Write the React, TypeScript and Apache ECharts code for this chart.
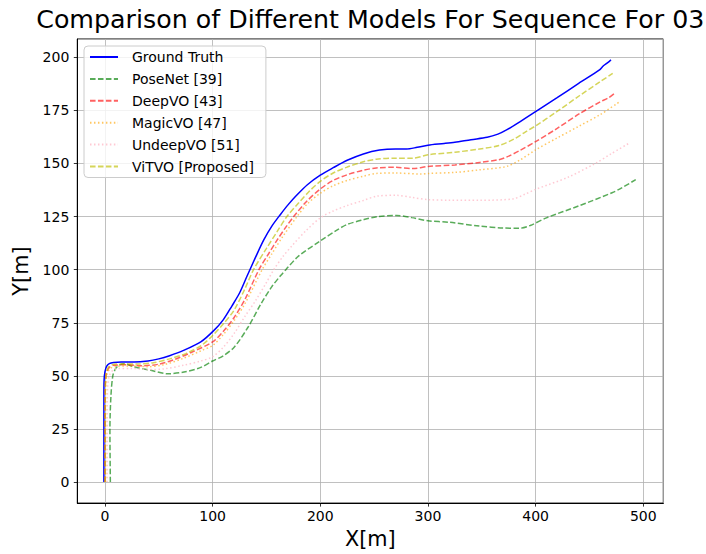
import React, { useEffect, useRef } from "react";
import * as echarts from "echarts";

type Pt = [number, number];

const seriesNames = ["Ground Truth", "PoseNet [39]", "DeepVO [43]", "MagicVO [47]", "UndeepVO [51]", "ViTVO [Proposed]"];

const groundTruth: Pt[] = [
  [-1, 0], [-1, 20], [-1, 40], [-0.8, 48], [0, 52], [1.5, 54.5], [4, 55.8], [8, 56.3], [15, 56.5], [27, 56.5],
  [40, 57], [50, 58], [60, 59.5], [73, 62], [89, 66], [101, 71.3], [110, 76.5], [118, 83], [125, 89], [132, 97],
  [140, 106], [147.5, 114], [155, 120.5], [163, 126], [170, 130.5], [178, 135], [188, 140], [200, 144.5],
  [212, 148], [225, 151.5], [240, 154.5], [255, 156.3], [270, 156.8], [280, 156.8], [290, 157.6], [300, 158.6],
  [315, 159.4], [325, 160], [340, 161.2], [355, 162.3], [365, 163.8], [373, 165.8], [385, 169.5], [400, 174.4],
  [420, 181], [440, 187.7], [459, 193.9], [463, 196], [467, 197.5], [470, 198.8],
];

const poseNet: Pt[] = [
  [5, 0], [4.6, 25], [5.6, 41], [7.4, 50.3], [10, 53.5], [13, 55], [18, 55.7], [27, 54.2], [42.6, 52.6], [58, 51],
  [73.4, 51.8], [89, 54], [100, 57], [110, 59.5], [120, 63.5], [133, 73], [145, 84], [155, 92], [163, 97.1],
  [168, 100], [180, 106.5], [200, 113.5], [215, 118.5], [225, 121.3], [240, 123.5], [252.5, 124.9], [271, 125.5],
  [285, 124.5], [300, 123], [320, 122.3], [348, 120.5], [370, 119.6], [385, 119.5], [395, 120.8], [410, 124.4],
  [440, 130], [471, 136.2], [480, 138.5], [493, 142.4],
];

const deepVO: Pt[] = [
  [0, 0], [0, 30], [0.4, 46], [1.5, 51.5], [4, 54], [8, 55], [20, 55.2], [35, 54.8], [50, 55.5], [65, 57.8],
  [80, 61], [100, 66], [110, 71], [120, 77.5], [130, 86], [143, 100], [152, 107.5], [160, 114], [168, 120],
  [175.3, 125], [187, 132], [200, 138], [212, 142], [225, 144.7], [240, 146.8], [252, 147.9], [270, 148.2],
  [286, 147.6], [300, 148.6], [325, 149.3], [348, 150.5], [366, 151.8], [373, 153], [385, 156], [400, 160.3],
  [420, 166.5], [441, 173.5], [460, 179], [468, 181], [474, 183.3],
];

const magicVO: Pt[] = [
  [0.5, 0], [0.5, 30], [0.8, 46], [2, 51], [5, 53.5], [10, 54.5], [25, 54.7], [40, 54.3], [55, 55.3], [73, 58.3],
  [90, 62], [100, 64.3], [110, 69.5], [120, 76], [130, 84], [146, 100], [155, 107.5], [165, 115.5], [178.4, 125],
  [188, 131], [200, 136], [212, 139.5], [225, 142], [240, 144], [252, 145.3], [270, 145.5], [294, 145],
  [300, 145.3], [325, 145.8], [348, 147], [373, 148.6], [386, 151.8], [400, 156.4], [420, 162], [440, 167.5],
  [460, 173], [477.8, 179],
];

const undeepVO: Pt[] = [
  [2, 0], [2, 30], [2.5, 45], [4, 50], [7, 52.5], [12, 53.5], [25, 53.5], [40, 53], [55, 53.3], [73, 55],
  [89, 57], [100, 59], [110, 63.5], [120, 70], [130, 78], [140, 85.5], [150, 94], [156.8, 100], [165, 106],
  [175, 112], [187, 118.5], [200, 124.4], [212, 127.6], [225, 130.2], [240, 132.6], [252.5, 134.6], [271, 135],
  [285, 134], [300, 133], [320, 132.7], [348, 132.7], [379, 133.3], [390, 135.5], [400, 137.8], [430, 143.5],
  [456, 150.2], [470, 154.5], [487, 159.6],
];

const viTVO: Pt[] = [
  [0, 0], [0, 30], [0.3, 45], [1, 51], [3, 54], [7, 55.3], [15, 55.6], [30, 55.6], [45, 56.2], [60, 58],
  [75, 60.5], [90, 64.5], [100, 69], [110, 74.5], [120, 81], [130, 91], [138, 100], [150, 110], [160, 118],
  [169, 125], [180, 131.5], [190, 137], [200, 141.6], [212, 145.5], [225, 148.3], [240, 150.8], [252, 152],
  [270, 152.5], [286, 152.5], [300, 154.1], [325, 155.3], [348, 156.8], [366, 158.5], [380, 161.5], [391, 165],
  [400, 167.7], [420, 174.5], [441, 182], [460, 188.5], [471.6, 192.4],
];

const seriesData: Pt[][] = [groundTruth, poseNet, deepVO, magicVO, undeepVO, viTVO];
const seriesColors = [
  "#0000ff",
  "rgba(0,128,0,0.65)",
  "rgba(255,0,0,0.62)",
  "rgba(255,165,0,0.62)",
  "rgba(255,192,203,0.85)",
  "rgba(191,191,0,0.65)",
];
const dash: number[] = [5.55, 2.4];
const dot: number[] = [1.5, 2.475];
const seriesDash: (string | number[])[] = ["solid", dash, dash, dot, dot, dash];

const FONT = "DejaVu Sans";

export default function App() {
  const ref = useRef<HTMLDivElement>(null);
  useEffect(() => {
    if (!ref.current) return;
    const chart = echarts.init(ref.current, undefined, { renderer: "svg" });
    const gridLeft = 77.3;
    const gridRight = 663.3;
    const gridTop = 39;
    const gridBottom = 504.3;
    chart.setOption({
      animation: false,
      backgroundColor: "#ffffff",
      textStyle: { fontFamily: FONT },
      graphic: [
        {
          type: "text",
          x: (gridLeft + gridRight) / 2,
          y: 7,
          style: {
            text: "Comparison of Different Models For Sequence For 03",
            fontFamily: FONT,
            fontSize: 25.3,
            fill: "#000",
            textAlign: "center",
            textVerticalAlign: "top",
          },
        },
      ],
      grid: {
        left: gridLeft,
        top: gridTop,
        width: gridRight - gridLeft,
        height: gridBottom - gridTop,
        show: true,
        borderColor: "#000",
        borderWidth: 1,
        backgroundColor: "transparent",
      },
      legend: {
        left: 84,
        top: 46,
        orient: "vertical",
        itemWidth: 28,
        itemHeight: 14,
        itemGap: 7.9,
        padding: [4, 12, 4, 5],
        backgroundColor: "rgba(255,255,255,0.8)",
        borderColor: "#cccccc",
        borderWidth: 1,
        borderRadius: 4,
        data: seriesNames,
        itemStyle: { opacity: 0 },
        textStyle: { fontFamily: FONT, fontSize: 14, color: "#000", lineHeight: 14, padding: [0, 0, 0, 9] },
      },
      xAxis: {
        type: "value",
        min: -25.7,
        max: 518.6,
        minInterval: 100,
        maxInterval: 100,
        splitNumber: 5,
        name: "X[m]",
        nameLocation: "middle",
        nameGap: 22,
        nameTextStyle: { fontFamily: FONT, fontSize: 20.8, color: "#000" },
        axisLine: { show: true, onZero: false, lineStyle: { color: "#000", width: 1 } },
        axisTick: { show: true, length: 3.5, lineStyle: { color: "#000", width: 0.8 } },
        axisLabel: {
          fontFamily: FONT,
          fontSize: 14,
          color: "#000",
          margin: 6,
          showMinLabel: false,
          showMaxLabel: false,
          formatter: (v: number) => (Math.abs(v % 100) < 1e-6 ? String(v) : ""),
        },
        splitLine: { show: true, lineStyle: { color: "#b0b0b0", width: 0.8 } },
      },
      yAxis: {
        type: "value",
        min: -9.9,
        max: 208.6,
        minInterval: 25,
        maxInterval: 25,
        splitNumber: 8,
        name: "Y[m]",
        nameLocation: "middle",
        nameGap: 42,
        nameTextStyle: { fontFamily: FONT, fontSize: 20.8, color: "#000" },
        axisLine: { show: true, onZero: false, lineStyle: { color: "#000", width: 1 } },
        axisTick: { show: true, length: 3.5, lineStyle: { color: "#000", width: 0.8 } },
        axisLabel: {
          fontFamily: FONT,
          fontSize: 14,
          color: "#000",
          margin: 8,
          showMinLabel: false,
          showMaxLabel: false,
          formatter: (v: number) => (Math.abs(v % 25) < 1e-6 ? String(v) : ""),
        },
        splitLine: { show: true, lineStyle: { color: "#b0b0b0", width: 0.8 } },
      },
      series: seriesNames.map((name, i) => ({
        name,
        type: "line",
        data: seriesData[i],
        symbol: "none",
        showSymbol: false,
        smooth: 0.3,
        clip: true,
        color: seriesColors[i],
        lineStyle: { color: seriesColors[i], width: 1.5, type: seriesDash[i] },
      })),
    });
    return () => chart.dispose();
  }, []);
  return <div ref={ref} style={{ position: "absolute", left: 0, top: 0, width: 706, height: 554 }} />;
}
